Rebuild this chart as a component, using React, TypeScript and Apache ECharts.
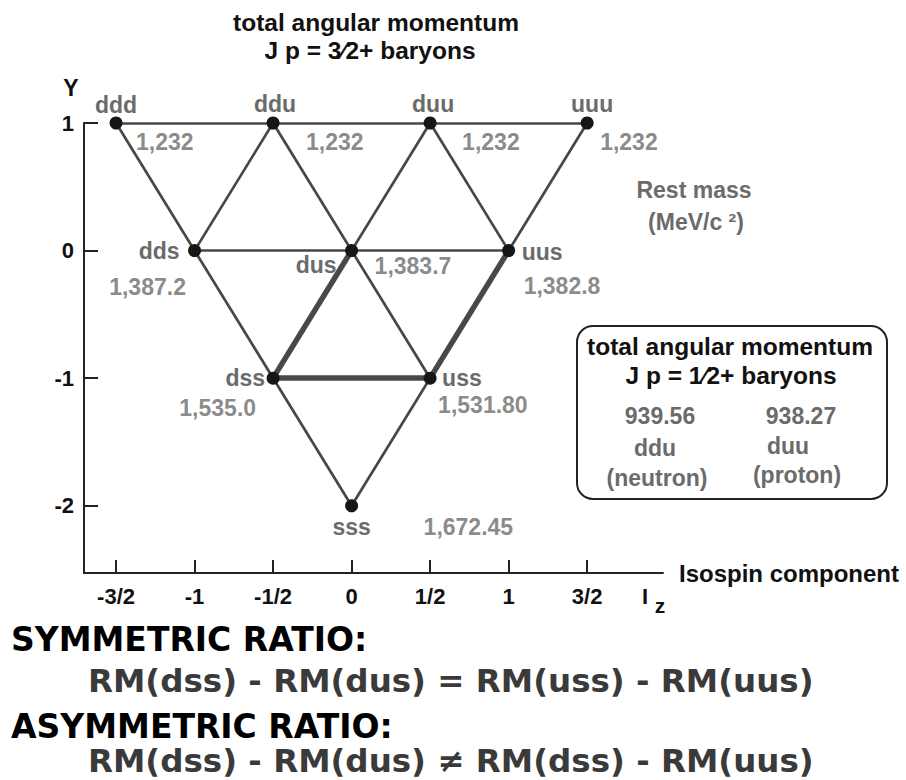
import React, { useEffect, useRef } from "react";
import * as echarts from "echarts";

// ---- data ----
const particles = ["ddd", "ddu", "duu", "uuu", "dds", "dus", "uus", "dss", "uss", "sss"];
const isospinIz = [-1.5, -0.5, 0.5, 1.5, -1, 0, 1, -0.5, 0.5, 0];
const hyperchargeY = [1, 1, 1, 1, 0, 0, 0, -1, -1, -2];
const restMassLabels = ["1,232", "1,232", "1,232", "1,232", "1,387.2", "1,383.7", "1,382.8", "1,535.0", "1,531.80", "1,672.45"];

const thinEdges = [
  ["ddd", "uuu"], ["dds", "uus"], ["ddd", "sss"], ["uuu", "sss"],
  ["ddu", "dds"], ["ddu", "uss"], ["duu", "dss"], ["duu", "uus"],
];
const thickEdges = [["dus", "dss"], ["uus", "uss"], ["dss", "uss"]];

const isospinTicks = [-1.5, -1, -0.5, 0, 0.5, 1, 1.5];
const isospinTickLabels = ["-3/2", "-1", "-1/2", "0", "1/2", "1", "3/2"];
const yTicks = [1, 0, -1, -2];
const yTickLabels = ["1", "0", "-1", "-2"];

const octetMass = ["939.56", "938.27"];
const octetQuarks = ["ddu", "duu"];
const octetNames = ["(neutron)", "(proton)"];

// ---- label layout (style only) ----
const nameLabelPos: Record<string, [string, number, number]> = {
  ddd: ["center", 0, -18], ddu: ["center", 2, -19], duu: ["center", 3, -19], uuu: ["center", 5, -19],
  dds: ["right", -15, 0], dus: ["right", -15, 14], uus: ["left", 13, 1],
  dss: ["right", -8, 0], uss: ["left", 12, 0], sss: ["center", 0, 21],
};
const massLabelPos: Record<string, [string, number, number]> = {
  ddd: ["left", 20, 19], ddu: ["left", 33, 19], duu: ["left", 32, 19], uuu: ["left", 13, 19],
  dds: ["center", -47, 36], dus: ["left", 23, 15], uus: ["left", 15, 35],
  dss: ["right", -17, 30], uss: ["left", 8, 27], sss: ["left", 72, 21],
};

const SANS = "Liberation Sans, Arial, sans-serif";
const VERD = "DejaVu Sans, Verdana, sans-serif";
const GRAY = "#6b6b6b";

function pt(name: string): [number, number] {
  const i = particles.indexOf(name);
  return [isospinIz[i], hyperchargeY[i]];
}

export default function App() {
  const ref = useRef<HTMLDivElement>(null);
  useEffect(() => {
    if (!ref.current) return;
    const chart = echarts.init(ref.current, null, { renderer: "svg" });
    const txt = (x: number, y: number, text: string, o: any = {}) => ({
      type: "text",
      x,
      y,
      z: 10,
      style: {
        text,
        fill: o.fill || "#111",
        fontSize: o.fontSize || 24.5,
        fontWeight: o.fontWeight || "bold",
        fontFamily: o.fontFamily || SANS,
        lineHeight: o.fontSize || 24.5,
        align: o.align || "center",
        verticalAlign: "middle",
      },
    });
    const option: any = {
      animation: false,
      grid: { left: 84, top: 123, right: 243, bottom: 207 },
      xAxis: {
        type: "value",
        min: -1.704,
        max: 1.983,
        splitLine: { show: false },
        axisLine: { show: true, onZero: false, lineStyle: { color: "#222", width: 2 } },
        axisTick: { show: true, inside: true, length: 13, customValues: isospinTicks, lineStyle: { color: "#222", width: 2 } },
        axisLabel: {
          customValues: isospinTicks,
          formatter: (v: number) => isospinTickLabels[isospinTicks.indexOf(v)] ?? "",
          color: "#111",
          fontSize: 22,
          fontWeight: "bold",
          fontFamily: SANS,
          margin: 12,
        },
        name: "Isospin component",
        nameLocation: "end",
        nameGap: 16,
        nameTextStyle: { color: "#111", fontSize: 24, fontWeight: "bold", fontFamily: SANS, verticalAlign: "middle" },
      },
      yAxis: {
        type: "value",
        min: -2.527,
        max: 1,
        splitLine: { show: false },
        axisLine: { show: true, onZero: false, lineStyle: { color: "#222", width: 2 } },
        axisTick: { show: true, inside: true, length: 14, customValues: yTicks, lineStyle: { color: "#222", width: 2 } },
        axisLabel: {
          customValues: yTicks,
          formatter: (v: number) => yTickLabels[yTicks.indexOf(v)] ?? "",
          color: "#111",
          fontSize: 22,
          fontWeight: "bold",
          fontFamily: SANS,
          margin: 10,
        },
      },
      series: [
        {
          type: "lines",
          coordinateSystem: "cartesian2d",
          clip: false,
          z: 2,
          lineStyle: { color: "#474747", width: 2.7, opacity: 1 },
          data: thinEdges.map(([a, b]) => ({ coords: [pt(a), pt(b)] })),
        },
        {
          type: "lines",
          coordinateSystem: "cartesian2d",
          clip: false,
          z: 3,
          lineStyle: { color: "#484848", width: 5.5, opacity: 1 },
          data: thickEdges.map(([a, b]) => ({ coords: [pt(a), pt(b)] })),
        },
        {
          type: "scatter",
          clip: false,
          z: 5,
          symbol: "circle",
          symbolSize: 13,
          itemStyle: { color: "#161616", opacity: 1 },
          label: {
            show: true,
            position: "inside",
            formatter: "{b}",
            color: GRAY,
            fontSize: 23,
            fontWeight: "bold",
            fontFamily: SANS,
            verticalAlign: "middle",
          },
          data: particles.map((p, i) => ({
            name: p,
            value: [isospinIz[i], hyperchargeY[i]],
            label: { align: nameLabelPos[p][0], offset: [nameLabelPos[p][1], nameLabelPos[p][2]] },
          })),
        },
        {
          type: "scatter",
          clip: false,
          z: 4,
          symbol: "circle",
          symbolSize: 1,
          silent: true,
          itemStyle: { color: "rgba(0,0,0,0)" },
          label: {
            show: true,
            position: "inside",
            formatter: (p: any) => p.data.mass,
            color: GRAY,
            fontSize: 23,
            fontWeight: "bold",
            fontFamily: SANS,
            verticalAlign: "middle",
          },
          data: particles.map((p, i) => ({
            name: p + " mass",
            mass: restMassLabels[i],
            value: [isospinIz[i], hyperchargeY[i]],
            label: { align: massLabelPos[p][0], offset: [massLabelPos[p][1], massLabelPos[p][2]] },
          })),
        },
      ],
      graphic: [
        txt(376, 22, "total angular momentum"),
        txt(370, 50, "J p = 3\u20442+ baryons"),
        txt(71, 88, "Y", { fontSize: 23 }),
        txt(694, 190, "Rest mass", { fill: GRAY, fontSize: 23 }),
        txt(696, 222, "(MeV/c \u00b2)", { fill: GRAY, fontSize: 23 }),
        txt(645, 596, "I", { fontSize: 22 }),
        txt(660, 605, "z", { fontSize: 21 }),
        {
          type: "rect",
          z: 8,
          shape: { x: 577, y: 326, width: 310, height: 173, r: 16 },
          style: { fill: "#fff", stroke: "#222", lineWidth: 2 },
        },
        txt(730, 346, "total angular momentum"),
        txt(731, 375, "J p = 1\u20442+ baryons"),
        txt(660, 416, octetMass[0], { fill: GRAY, fontSize: 23 }),
        txt(801, 416, octetMass[1], { fill: GRAY, fontSize: 23 }),
        txt(655, 448, octetQuarks[0], { fill: GRAY, fontSize: 23 }),
        txt(788, 446, octetQuarks[1], { fill: GRAY, fontSize: 23 }),
        txt(657, 478, octetNames[0], { fill: GRAY, fontSize: 23 }),
        txt(797, 475, octetNames[1], { fill: GRAY, fontSize: 23 }),
        txt(11, 639, "SYMMETRIC RATIO:", { align: "left", fontFamily: VERD, fontSize: 33, fill: "#000" }),
        txt(88, 681, "RM(dss) - RM(dus) = RM(uss) - RM(uus)", { align: "left", fontFamily: VERD, fontSize: 32.5, fill: "#3a3a3a" }),
        txt(11, 726, "ASYMMETRIC RATIO:", { align: "left", fontFamily: VERD, fontSize: 33, fill: "#000" }),
        txt(88, 761, "RM(dss) - RM(dus) \u2260 RM(dss) - RM(uus)", { align: "left", fontFamily: VERD, fontSize: 32.5, fill: "#3a3a3a" }),
      ],
    };
    chart.setOption(option);
    return () => chart.dispose();
  }, []);
  return (
    <div
      ref={ref}
      style={{ position: "absolute", left: 0, top: 0, width: 906, height: 780, background: "#fff" }}
    />
  );
}
